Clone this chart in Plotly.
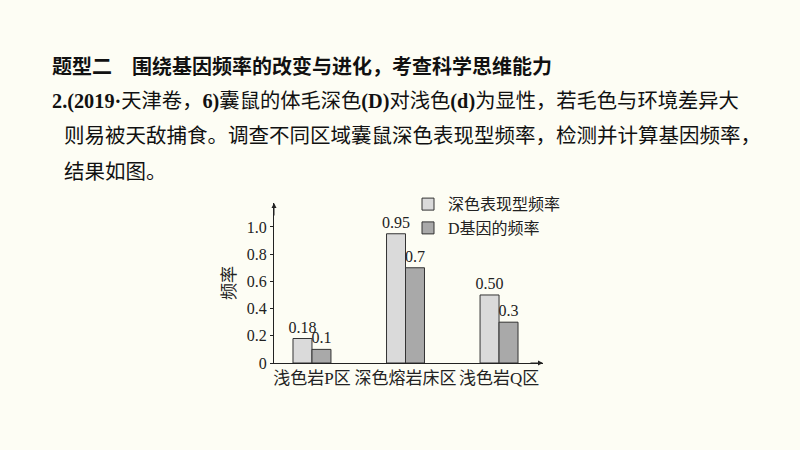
import plotly.graph_objects as go

regions = ["浅色岩P区", "深色熔岩床区", "浅色岩Q区"]
dark_pheno = [0.18, 0.95, 0.50]
dark_pheno_text = ["0.18", "0.95", "0.50"]
d_gene = [0.1, 0.7, 0.3]
d_gene_text = ["0.1", "0.7", "0.3"]
y_ticks = [0, 0.2, 0.4, 0.6, 0.8, 1.0]
y_ticktext = ["0", "0.2", "0.4", "0.6", "0.8", "1.0"]

serif = "Liberation Serif, Noto Sans CJK SC"
cjk = "Liberation Serif, Noto Sans CJK SC"
bg = "#fdfdf4"

fig = go.Figure()
fig.add_trace(go.Bar(x=regions, y=dark_pheno, name="深色表现型频率",
                     text=dark_pheno_text, textposition="outside", constraintext="none",
                     cliponaxis=False,
                     textfont=dict(family=serif, size=16, color="#222"),
                     marker=dict(color="#dadada", line=dict(color="#333", width=1))))
fig.add_trace(go.Bar(x=regions, y=d_gene, name="D基因的频率",
                     text=d_gene_text, textposition="outside", constraintext="none",
                     cliponaxis=False,
                     textfont=dict(family=serif, size=16, color="#222"),
                     marker=dict(color="#a9a9a9", line=dict(color="#333", width=1))))

fig.update_layout(
    width=800, height=450,
    margin=dict(l=0, r=0, t=0, b=0, autoexpand=False),
    paper_bgcolor=bg, plot_bgcolor=bg,
    barmode="group", bargap=0.594, bargroupgap=0,
    font=dict(family=cjk, color="#222"),
    legend=dict(x=0.51, y=0.584, xanchor="left", yanchor="top",
                bgcolor="rgba(0,0,0,0)", font=dict(family=cjk, size=16, color="#222"),
                tracegroupgap=0),
    xaxis=dict(domain=[274 / 800, 543 / 800], range=[-0.406, 2.47], automargin=False,
               showline=True, linecolor="#222", linewidth=1, ticks="",
               tickfont=dict(family=cjk, size=17, color="#222"), showgrid=False, zeroline=False),
    yaxis=dict(domain=[1 - 363 / 450, 1 - 203 / 450], range=[0, 1.176], automargin=False,
               showline=True, linecolor="#222", linewidth=1, ticks="outside", ticklen=3,
               tickcolor="#222", tickvals=y_ticks, ticktext=y_ticktext,
               tickfont=dict(family=serif, size=16, color="#222"),
               showgrid=False, zeroline=False),
)

# axis arrows
fig.add_annotation(xref="x domain", yref="y domain", x=0, y=1, ax=0, ay=14,
                   text="", showarrow=True, arrowhead=2, arrowsize=1, arrowwidth=1, arrowcolor="#222")
fig.add_annotation(xref="x domain", yref="y domain", x=1, y=0, ax=-14, ay=0,
                   text="", showarrow=True, arrowhead=2, arrowsize=1, arrowwidth=1, arrowcolor="#222")

# y-axis title
fig.add_annotation(xref="paper", yref="paper", x=229 / 800, y=1 - 283 / 450,
                   xanchor="center", yanchor="middle",
                   text="频率", textangle=-90, showarrow=False,
                   font=dict(family=cjk, size=17, color="#222"))

# question text
lines = [
    (66, "<b>题型二　围绕基因频率的改变与进化，考查科学思维能力</b>", 50, 20),
    (101, "<b>2.(2019·</b>天津卷，<b>6)</b>囊鼠的体毛深色<b>(D)</b>对浅色<b>(d)</b>为显性，若毛色与环境差异大", 50, 20.3),
    (136, "则易被天敌捕食。调查不同区域囊鼠深色表现型频率，检测并计算基因频率，", 62, 20.5),
    (172, "结果如图。", 62, 20.5),
]
for y, txt, x, size in lines:
    fig.add_annotation(xref="paper", yref="paper", x=x / 800, y=1 - y / 450,
                       xanchor="left", yanchor="middle", text=txt, showarrow=False,
                       font=dict(family=cjk, size=size, color="#111"))

js = (
    "document.body.style.margin='0';"
    "document.body.style.background='%s';"
    "document.documentElement.style.background='%s';"
) % (bg, bg)
fig.write_html("out.html", config={"displayModeBar": False}, post_script=js)
